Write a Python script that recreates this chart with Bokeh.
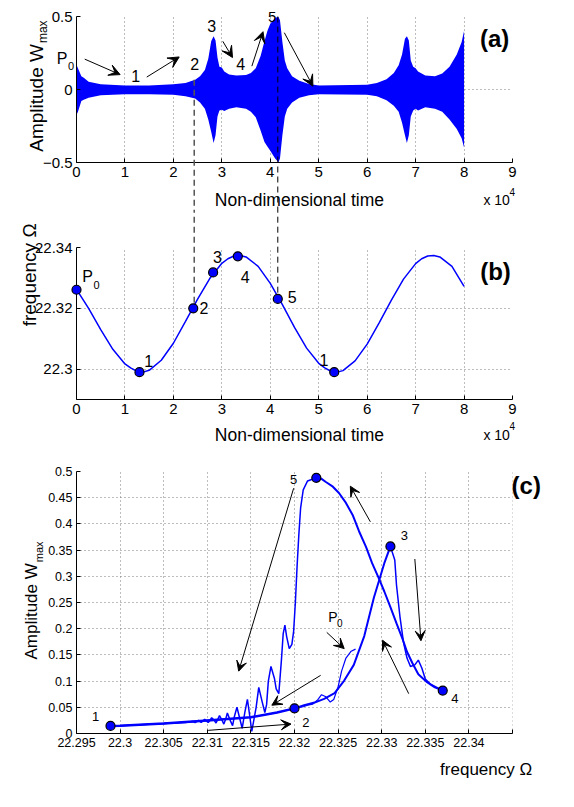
from bokeh.plotting import figure
from bokeh.layouts import column
from bokeh.models import FixedTicker, CustomJSTickFormatter, Arrow, VeeHead, Range1d
from bokeh.core.properties import value
from bokeh.embed import file_html
from bokeh.resources import INLINE

FONT = "Liberation Sans"
BLUE = "#0000FF"

# ---------------- Panel (a): amplitude envelope vs time (x 1e4) ----------------
t_env = [0, 0.03, 0.1, 0.15, 0.25, 0.5, 1.0, 1.5, 2.0, 2.25, 2.45, 2.55, 2.65, 2.72, 2.78,
         2.83, 2.87, 2.91, 2.95, 3.0, 3.05, 3.15, 3.3, 3.5, 3.6, 3.7, 3.8, 3.88, 3.94, 4.0,
         4.1, 4.17, 4.2, 4.25, 4.3, 4.35, 4.45, 4.6, 4.8, 5.0, 6.0, 6.2, 6.4, 6.55, 6.65,
         6.72, 6.78, 6.82, 6.86, 6.9, 6.95, 7.0, 7.05, 7.2, 7.4, 7.55, 7.7, 7.85, 7.95, 8.0]
amp_upper = [0.17, 0.145, 0.09, 0.081, 0.053, 0.036, 0.028, 0.028, 0.036, 0.045, 0.066, 0.091, 0.134, 0.21, 0.33,
             0.364, 0.336, 0.22, 0.155, 0.151, 0.123, 0.102, 0.096, 0.1, 0.113, 0.145, 0.23, 0.33, 0.40, 0.45,
             0.491, 0.496, 0.474, 0.326, 0.198, 0.145, 0.091, 0.06, 0.038, 0.028, 0.032, 0.045, 0.07, 0.113, 0.166,
             0.24, 0.347, 0.364, 0.336, 0.198, 0.155, 0.145, 0.123, 0.096, 0.091, 0.109, 0.155, 0.24, 0.326, 0.4]
amp_lower = [-0.175, -0.153, -0.079, -0.07, -0.057, -0.04, -0.032, -0.032, -0.036, -0.047, -0.062, -0.089, -0.132, -0.206, -0.29,
             -0.366, -0.313, -0.185, -0.143, -0.138, -0.147, -0.132, -0.121, -0.132, -0.153, -0.19, -0.28, -0.36, -0.39, -0.42,
             -0.472, -0.498, -0.472, -0.313, -0.185, -0.132, -0.089, -0.057, -0.04, -0.032, -0.036, -0.047, -0.074, -0.111, -0.153,
             -0.228, -0.313, -0.366, -0.313, -0.185, -0.143, -0.132, -0.143, -0.121, -0.132, -0.153, -0.206, -0.27, -0.334, -0.398]
a_xticks = [0, 1, 2, 3, 4, 5, 6, 7, 8, 9]
a_yticks = [-0.5, 0, 0.5]
a_arrows = [(0.17, 0.208, 0.90, 0.102), (1.45, 0.085, 2.12, 0.223), (3.02, 0.33, 3.22, 0.219),
            (3.62, 0.16, 3.85, 0.396), (4.29, 0.389, 4.88, 0.023)]
a_labels = [("1", 1.22, 0.091), ("2", 2.44, 0.177), ("3", 2.79, 0.436), ("4", 3.39, 0.177)]
a_label5 = ("5", 4.04, 0.497)

# ---------------- Panel (b): frequency vs time ----------------
t_freq = [0, 0.25, 0.5, 0.75, 1, 1.125, 1.25, 1.375, 1.5, 1.75, 2, 2.25, 2.5, 2.75, 3, 3.125, 3.25, 3.375, 3.5, 3.75, 4,
          4.25, 4.5, 4.75, 5, 5.125, 5.25, 5.375, 5.5, 5.75, 6, 6.25, 6.5, 6.75, 7, 7.125, 7.25, 7.375, 7.5, 7.75, 8]
freq = [22.3262, 22.3200, 22.3130, 22.3065, 22.3017, 22.3003, 22.2993, 22.2990, 22.2996, 22.3029, 22.3085, 22.3157,
        22.3230, 22.3298, 22.3348, 22.3363, 22.3372, 22.3374, 22.3369, 22.3338, 22.3282, 22.3212, 22.3137, 22.3069,
        22.3019, 22.3004, 22.2993, 22.2990, 22.2995, 22.3027, 22.3082, 22.3153, 22.3227, 22.3296, 22.3347,
        22.3363, 22.3372, 22.3374, 22.3369, 22.3338, 22.3272]
b_pts_t = [0, 1.30, 2.41, 2.82, 3.33, 4.155, 5.32]
b_pts_f = [22.3261, 22.299, 22.3200, 22.3318, 22.3371, 22.3231, 22.299]
b_yticks = [22.30, 22.32, 22.34]
b_labels = [("1", 1.49, 22.3026), ("2", 2.63, 22.3200), ("3", 2.91, 22.3368), ("4", 3.48, 22.3303),
            ("5", 4.45, 22.3236), ("1", 5.11, 22.3031)]
dash_t = [2.43, 4.155]

# ---------------- Panel (c): amplitude vs frequency ----------------
om_p0 = [22.3270, 22.3265, 22.3259, 22.3254, 22.3250, 22.3245, 22.3241, 22.3236, 22.3231, 22.3227,
         22.3221, 22.3215, 22.3210, 22.3200, 22.3180, 22.3150, 22.3100, 22.3050, 22.3000, 22.2989]
amp_p0 = [0.161, 0.157, 0.144, 0.119, 0.089, 0.065, 0.060, 0.070, 0.074, 0.065,
          0.056, 0.054, 0.051, 0.048, 0.040, 0.031, 0.025, 0.019, 0.0148, 0.0145]
om_12 = [22.2989, 22.3000, 22.3050, 22.3100, 22.3150, 22.3180, 22.3200]
amp_12 = [0.0145, 0.0148, 0.019, 0.025, 0.031, 0.040, 0.048]
om_23 = [22.3200, 22.3211, 22.3223, 22.3234, 22.3246, 22.3257, 22.3268, 22.3280, 22.3291, 22.3303, 22.3310]
amp_23 = [0.048, 0.054, 0.059, 0.066, 0.077, 0.101, 0.131, 0.186, 0.259, 0.325, 0.357]
om_34 = [22.3310, 22.3315, 22.3317, 22.3321, 22.3325, 22.3329, 22.3333, 22.3338, 22.3342, 22.3346,
         22.3350, 22.3356, 22.3361, 22.3370]
amp_34 = [0.357, 0.331, 0.283, 0.222, 0.174, 0.144, 0.128, 0.131, 0.140, 0.125, 0.104, 0.094, 0.090, 0.082]
om_45 = [22.3370, 22.3361, 22.3352, 22.3342, 22.3335, 22.3329, 22.3324, 22.3317, 22.3310, 22.3303,
         22.3297, 22.3289, 22.3282, 22.3274, 22.3267, 22.3259, 22.3251, 22.3244, 22.3236, 22.3231, 22.3225]
amp_45 = [0.082, 0.088, 0.098, 0.113, 0.135, 0.156, 0.180, 0.210, 0.241, 0.271,
          0.295, 0.325, 0.356, 0.386, 0.416, 0.440, 0.459, 0.471, 0.480, 0.486, 0.488]
om_51 = [22.3225, 22.3215, 22.3210, 22.3207, 22.3205, 22.3203, 22.3201, 22.3199, 22.3197, 22.3194,
         22.3191, 22.3189, 22.3187, 22.3185, 22.3182, 22.3179, 22.3177, 22.3173, 22.3170, 22.3168,
         22.3166, 22.3163, 22.3159, 22.3156, 22.3151, 22.3149, 22.3146, 22.3143, 22.3140, 22.3137,
         22.3134, 22.3131, 22.3129, 22.3126, 22.3123, 22.3121, 22.3119, 22.3117, 22.3114, 22.3112,
         22.3110, 22.3108, 22.3105, 22.3103, 22.3101, 22.3099, 22.3097, 22.3093, 22.3090, 22.3086,
         22.3083, 22.3075, 22.3050, 22.3000, 22.2989]
amp_51 = [0.488, 0.482, 0.465, 0.430, 0.380, 0.320, 0.250, 0.195, 0.170, 0.162,
          0.185, 0.207, 0.190, 0.140, 0.076, 0.085, 0.105, 0.128, 0.100, 0.055,
          0.040, 0.060, 0.088, 0.050, 0.004, 0.030, 0.065, 0.040, 0.010, 0.030,
          0.050, 0.032, 0.015, 0.026, 0.039, 0.027, 0.018, 0.025, 0.034, 0.027,
          0.020, 0.025, 0.030, 0.025, 0.021, 0.024, 0.027, 0.021, 0.025, 0.021,
          0.023, 0.021, 0.019, 0.0148, 0.0145]
c_pts_om = [22.2989, 22.3200, 22.3310, 22.3370, 22.3225]
c_pts_amp = [0.0145, 0.048, 0.357, 0.082, 0.488]
c_xticks = [22.295, 22.30, 22.305, 22.31, 22.315, 22.32, 22.325, 22.33, 22.335, 22.34, 22.345]
c_yticks = [0, 0.05, 0.1, 0.15, 0.2, 0.25, 0.3, 0.35, 0.4, 0.45, 0.5]
c_arrows = [(22.3199, 0.468, 22.3136, 0.119), (22.3230, 0.111, 22.3174, 0.054),
            (22.3101, 0.006, 22.3196, 0.018), (22.3237, 0.193, 22.3257, 0.162),
            (22.3287, 0.404, 22.3264, 0.472), (22.3338, 0.333, 22.3345, 0.177),
            (22.3331, 0.076, 22.3301, 0.178)]
c_labels = [("5", 22.3199, 0.484), ("2", 22.3213, 0.021), ("3", 22.3326, 0.378),
            ("4", 22.3384, 0.067), ("1", 22.2972, 0.033)]


def fmt(limit=1e9):
    code = """
    const v = Math.round(tick * 100000) / 100000;
    if (v > %s) return "";
    return v < 0 ? "\u2212" + String(-v) : String(v);
    """ % repr(limit)
    return CustomJSTickFormatter(code=code)


def make_fig(w, h, xr, yr, left, right, top, bottom, xticks, yticks, fsize, xlim=1e9):
    p = figure(width=w, height=h, x_range=Range1d(*xr), y_range=Range1d(*yr),
               output_backend="svg", toolbar_location=None,
               min_border_left=left, min_border_right=right,
               min_border_top=top, min_border_bottom=bottom)
    p.outline_line_color = None
    p.background_fill_color = "white"
    p.border_fill_color = "white"
    xt = FixedTicker(ticks=xticks)
    yt = FixedTicker(ticks=yticks)
    p.xaxis.ticker = xt
    p.yaxis.ticker = yt
    p.xgrid.ticker = xt
    p.ygrid.ticker = yt
    p.xaxis.formatter = fmt(xlim)
    p.yaxis.formatter = fmt()
    for ax in (p.xaxis, p.yaxis):
        ax.axis_line_color = "black"
        ax.axis_line_width = 1
        ax.major_tick_in = 4
        ax.major_tick_out = 0
        ax.major_tick_line_color = "black"
        ax.minor_tick_line_color = None
        ax.major_label_text_font = FONT
        ax.major_label_text_font_size = fsize
        ax.major_label_text_color = "black"
        ax.major_label_standoff = 4
    for g in (p.xgrid, p.ygrid):
        g.grid_line_color = "#7a7a7a"
        g.grid_line_dash = "1 3"
        g.grid_line_width = 1
    return p


def txt(p, x, y, s, size, align="center", baseline="middle", angle=0.0, bold=False, xo=0, yo=0):
    # text glyph on the overlay level so that it may sit outside the frame
    p.text(x=[x], y=[y], text=[s], text_font=value(FONT), text_font_size=value("%spx" % size),
           text_align=align, text_baseline=baseline, angle=angle,
           text_font_style="bold" if bold else "normal",
           x_offset=xo, y_offset=yo, text_color="black", level="overlay")


def arrow(p, xs, ys, xe, ye, size=10):
    p.add_layout(Arrow(end=VeeHead(size=size, fill_color="black", line_color="black", line_width=1),
                       x_start=xs, y_start=ys, x_end=xe, y_end=ye,
                       line_color="black", line_width=1))


W = 550
ROT = 1.5707963

# ---------- (a) ----------
pa = make_fig(W, 210, (0, 9), (-0.5, 0.5), 67, 6, 16, 48, a_xticks, a_yticks, "15px")
pa.varea(x=t_env, y1=amp_lower, y2=amp_upper, fill_color=BLUE)
pa.line([dash_t[0], dash_t[0]], [0.066, -1.0], line_color="#555555", line_width=1.5,
        line_dash="6 4", level="overlay")
pa.line([dash_t[1], dash_t[1]], [0.5, -1.0], line_color="black", line_width=1,
        line_dash="6 4", level="overlay")
for xs, ys, xe, ye in a_arrows:
    arrow(pa, xs, ys, xe, ye, 11)
for s, x, y in a_labels:
    txt(pa, x, y, s, 16)
txt(pa, a_label5[1], a_label5[2], a_label5[0], 15, baseline="alphabetic")
txt(pa, -0.297, 0.212, "P", 16)
txt(pa, -0.297, 0.212, "0", 11, xo=9, yo=7)
txt(pa, 8.63, 0.347, "(a)", 24, bold=True)
txt(pa, -0.835, 0.311, "Amplitude W", 19, align="right", baseline="alphabetic", angle=ROT)
txt(pa, -0.835, 0.311, "max", 12, align="left", baseline="alphabetic", angle=ROT, xo=7, yo=-1)
txt(pa, 4.602, -0.760, "Non-dimensional time", 17.5, baseline="alphabetic")
txt(pa, 8.40, -0.760, "x 10", 14, align="left", baseline="alphabetic")
txt(pa, 8.94, -0.699, "4", 10, align="left", baseline="alphabetic")

# ---------- (b) ----------
pb = make_fig(W, 235, (0, 9), (22.29, 22.34), 67, 6, 37, 46, a_xticks, b_yticks, "15px")
pb.line(t_freq, freq, line_color=BLUE, line_width=1.5)
pb.line([dash_t[0], dash_t[0]], [22.36, 22.3200], line_color="#555555", line_width=1.5,
        line_dash="6 4", level="overlay")
pb.line([dash_t[1], dash_t[1]], [22.36, 22.3231], line_color="black", line_width=1,
        line_dash="6 4", level="overlay")
pb.scatter(b_pts_t, b_pts_f, size=9, fill_color=BLUE, line_color="black", line_width=1.2,
           level="overlay")
for s, x, y in b_labels:
    txt(pb, x, y, s, 16)
txt(pb, 0.228, 22.3303, "P", 16)
txt(pb, 0.228, 22.3303, "0", 11, xo=9, yo=8)
txt(pb, 8.65, 22.332, "(b)", 24, bold=True)
txt(pb, -0.965, 22.331, "frequency \u03a9", 19, baseline="alphabetic", angle=ROT)
txt(pb, 4.602, 22.27816, "Non-dimensional time", 17.5, baseline="alphabetic")
txt(pb, 8.40, 22.27816, "x 10", 14, align="left", baseline="alphabetic")
txt(pb, 8.94, 22.28112, "4", 10, align="left", baseline="alphabetic")

# ---------- (c) ----------
pc = make_fig(W, 338, (22.295, 22.3450001), (0, 0.5), 76, 38, 26, 50, c_xticks, c_yticks,
              "12.5px", xlim=22.3425)
pc.line(om_p0, amp_p0, line_color=BLUE, line_width=1.2)
pc.line(om_12, amp_12, line_color=BLUE, line_width=2.5)
pc.line(om_23, amp_23, line_color=BLUE, line_width=2)
pc.line(om_34, amp_34, line_color=BLUE, line_width=1.5)
pc.line(om_45, amp_45, line_color=BLUE, line_width=2)
pc.line(om_51, amp_51, line_color=BLUE, line_width=1.5)
pc.scatter(c_pts_om, c_pts_amp, size=9, fill_color=BLUE, line_color="black", line_width=1.2,
           level="overlay")
for xs, ys, xe, ye in c_arrows:
    arrow(pc, xs, ys, xe, ye, 10)
for s, x, y in c_labels:
    txt(pc, x, y, s, 13)
txt(pc, 22.3244, 0.222, "P", 14)
txt(pc, 22.3244, 0.222, "0", 10, xo=7, yo=6)
txt(pc, 22.34489, 0.473, "(c)", 24, align="left", bold=True)
txt(pc, 22.28989, 0.325, "Amplitude W", 17, align="right", baseline="alphabetic", angle=ROT)
txt(pc, 22.28989, 0.325, "max", 11, align="left", baseline="alphabetic", angle=ROT, xo=7, yo=-1)
txt(pc, 22.3367, -0.0687, "frequency \u03a9", 17, align="left", baseline="alphabetic")

layout = column(pa, pb, pc)
open("out.html", "w").write(file_html(layout, INLINE))
